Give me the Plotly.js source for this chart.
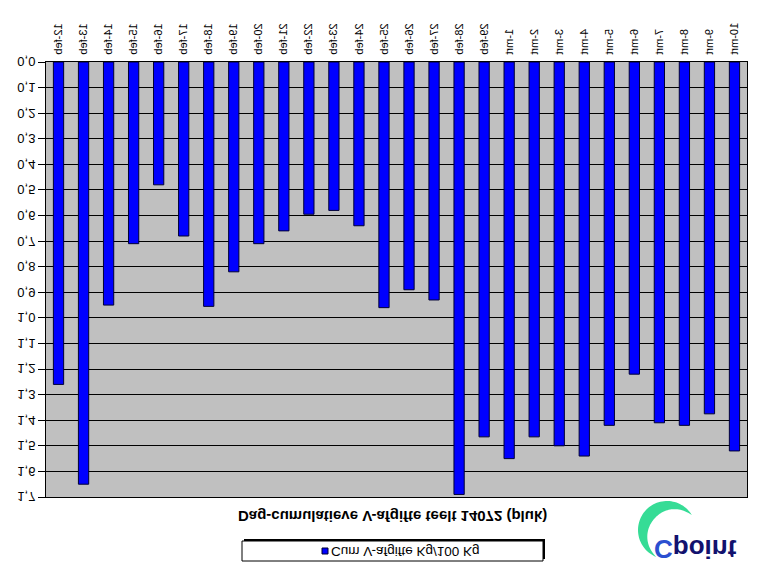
<!DOCTYPE html>
<html><head><meta charset="utf-8">
<script src="https://cdn.plot.ly/plotly-3.0.1.min.js"></script>
<style>
html,body{margin:0;padding:0;background:#fff;overflow:hidden}
#chart{width:773px;height:570px;transform:scaleY(-1);transform-origin:50% 50%;}
</style></head>
<body><div id="chart"></div>
<script>
// ---- data ----
const categories = ['12-feb','13-feb','14-feb','15-feb','16-feb','17-feb','18-feb','19-feb','20-feb','21-feb','22-feb','23-feb','24-feb','25-feb','26-feb','27-feb','28-feb','29-feb','1-mrt','2-mrt','3-mrt','4-mrt','5-mrt','6-mrt','7-mrt','8-mrt','9-mrt','10-mrt'];
const cumAfgifte = [1.26,1.65,0.95,0.71,0.48,0.68,0.955,0.82,0.71,0.66,0.595,0.58,0.64,0.96,0.89,0.93,1.69,1.465,1.55,1.465,1.50,1.54,1.42,1.22,1.41,1.42,1.375,1.52];
const yTickVals = [0,0.1,0.2,0.3,0.4,0.5,0.6,0.7,0.8,0.9,1.0,1.1,1.2,1.3,1.4,1.5,1.6,1.7];
const yTickText = ['0,0','0,1','0,2','0,3','0,4','0,5','0,6','0,7','0,8','0,9','1,0','1,1','1,2','1,3','1,4','1,5','1,6','1,7'];
const seriesName = 'Cum V-afgifte Kg/100 Kg';
const chartTitle = 'Dag-cumulatieve V-afgifte teelt 14072 (pluk)';
const logoC = 'C';
const logoRest = 'point';

// ---- geometry (upright page, flipped by CSS afterwards) ----
const W = 773, H = 570, L = 46, R = 26, T = 73, B = 62;
const PW = W - L - R, PH = H - T - B;
const px2x = px => (px - L) / PW;
const py2y = py => (H - B - py) / PH;   // py = pixel from top of upright page
const FONT = 'Arial, "Liberation Sans", sans-serif';

// logo crescent (built in reference coordinates, then flipped)
function crescentPath() {
  const cx = 667, cy = 530, Rr = 29;
  const a1 = -31 * Math.PI / 180, a2 = -248 * Math.PI / 180;
  const n = 60, outer = [], inner = [];
  for (let i = 0; i <= n; i++) {
    const f = i / n, a = a1 + (a2 - a1) * f;
    const t = 12 * Math.pow(Math.sin(Math.PI * f), 0.9);
    outer.push([cx + Rr * Math.cos(a), cy + Rr * Math.sin(a)]);
    inner.push([cx + (Rr - t) * Math.cos(a), cy + (Rr - t) * Math.sin(a)]);
  }
  const pts = outer.concat(inner.reverse());
  return pts.map((p, i) => (i ? 'L' : 'M') + px2x(p[0]).toFixed(5) + ',' + py2y(H - p[1]).toFixed(5)).join(' ') + ' Z';
}

const trace = {
  type: 'bar',
  x: categories,
  y: cumAfgifte,
  name: seriesName,
  marker: {color: '#0000FF', line: {color: '#000033', width: 1}},
  showlegend: false,
  hoverinfo: 'skip'
};

const layout = {
  width: W, height: H,
  margin: {l: L, r: R, t: T, b: B, pad: 0},
  paper_bgcolor: '#FFFFFF',
  plot_bgcolor: '#C0C0C0',
  bargap: 0.59,
  showlegend: false,
  font: {family: FONT, color: '#000'},
  xaxis: {
    type: 'category', range: [-0.5, categories.length - 0.5],
    tickangle: -90, ticks: '', ticklabelstandoff: 2,
    tickfont: {family: FONT, size: 11, color: '#000'},
    showline: true, mirror: true, linecolor: '#000', linewidth: 1,
    showgrid: false, zeroline: false, fixedrange: true
  },
  yaxis: {
    range: [0, 1.7], tickmode: 'array', tickvals: yTickVals, ticktext: yTickText,
    ticks: 'outside', ticklen: 7, tickwidth: 1, tickcolor: '#000',
    tickfont: {family: FONT, size: 13, color: '#000'},
    showgrid: true, gridcolor: '#000', gridwidth: 1,
    showline: true, mirror: true, linecolor: '#000', linewidth: 1,
    zeroline: false, fixedrange: true
  },
  shapes: [
    // legend box shadow + box
    {type: 'rect', xref: 'paper', yref: 'paper', x0: px2x(244), x1: px2x(545), y0: py2y(11), y1: py2y(31), fillcolor: '#000', line: {width: 0}},
    {type: 'rect', xref: 'paper', yref: 'paper', x0: px2x(242), x1: px2x(543), y0: py2y(9), y1: py2y(29), fillcolor: '#FFF', line: {color: '#000', width: 1}},
    // legend key
    {type: 'rect', xref: 'paper', yref: 'paper', x0: px2x(322), x1: px2x(328), y0: py2y(16), y1: py2y(22), fillcolor: '#0000FF', line: {color: '#000033', width: 1}},
    // logo swoosh
    {type: 'path', xref: 'paper', yref: 'paper', path: crescentPath(), fillcolor: '#36DC96', line: {width: 0}}
  ],
  annotations: [
    {xref: 'paper', yref: 'paper', x: px2x(392), y: py2y(53), xanchor: 'center', yanchor: 'middle', showarrow: false,
     text: '<b>' + chartTitle + '</b>', font: {family: FONT, size: 15, color: '#000'}},
    {xref: 'paper', yref: 'paper', x: px2x(329), y: py2y(19), xanchor: 'left', yanchor: 'middle', showarrow: false,
     text: seriesName, font: {family: FONT, size: 13.5, color: '#000'}},
    {xref: 'paper', yref: 'paper', x: px2x(652), y: py2y(21), xanchor: 'left', yanchor: 'middle', showarrow: false,
     text: '<span style="color:#2B4FD0">' + logoC + '</span>' + logoRest, font: {family: FONT, size: 26, color: '#12126E', weight: 'bold'}}
  ]
};

Plotly.newPlot('chart', [trace], layout, {staticPlot: true, displayModeBar: false});
</script>
</body></html>
